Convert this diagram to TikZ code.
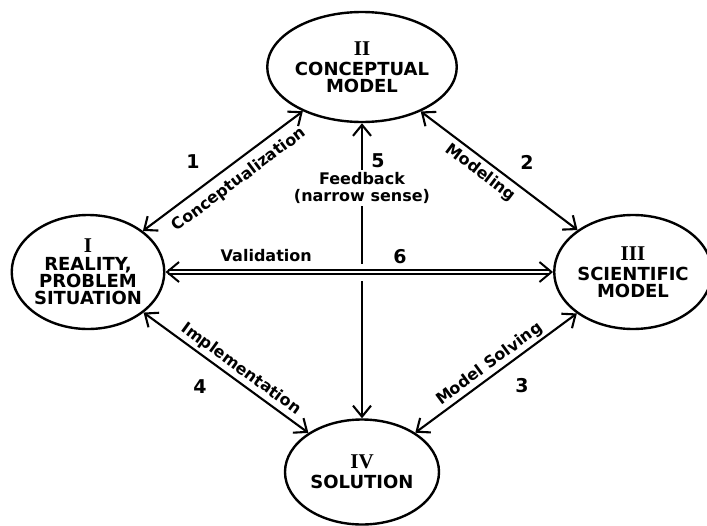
\documentclass[tikz,border=0pt]{standalone}
\usepackage{fontspec}
\setmainfont{DejaVu Sans}
\newfontfamily\romanfont{Liberation Serif}
\usetikzlibrary{shapes.geometric,arrows.meta}

\begin{document}
\begin{tikzpicture}[x=1pt,y=-1pt,>={Straight Barb[length=11pt,width=18pt]},
    stage/.style={draw, ellipse, line width=2.4pt, inner sep=0pt, align=center, font=\fontsize{18}{17}\selectfont\bfseries},
    link/.style={line width=2.1pt},
    lbl/.style={font=\fontsize{16}{17}\selectfont\bfseries, inner sep=1pt},
    num/.style={font=\fontsize{19}{19}\selectfont\bfseries}]
  \useasboundingbox (0,0) rectangle (707,525);
  % the four stages
  \node[stage, minimum width=150pt, minimum height=114pt] (real) at (88,272) {{\romanfont\fontsize{21}{21}\selectfont\bfseries I}\\[1pt]REALITY,\\PROBLEM\\SITUATION};
  \node[stage, minimum width=152pt, minimum height=110pt] (concept) at (362,67) {{\romanfont\fontsize{21}{21}\selectfont\bfseries II}\\[3pt]CONCEPTUAL\\MODEL};
  \node[stage, minimum width=142pt, minimum height=114pt] (sci) at (633,272) {{\romanfont\fontsize{21}{21}\selectfont\bfseries III}\\[3pt]SCIENTIFIC\\MODEL};
  \node[stage, minimum width=154pt, minimum height=105pt] (sol) at (362,472) {{\romanfont\fontsize{21}{21}\selectfont\bfseries IV}\\[3pt]SOLUTION};
  \coordinate (gapTop) at (362,264);
  \coordinate (gapBot) at (362,281);

  % connectors
  \draw[link,<->] (real) -- (concept) node[lbl, sloped, pos=0.54, below=7pt] (conc) {Conceptualization};
  \draw[link,<->] (concept) -- (sci) node[lbl, sloped, pos=0.43, below=3pt] (mod) {Modeling};
  \draw[link,<->] (sol) -- (sci) node[lbl, sloped, pos=0.5, above=1pt] (solv) {Model Solving};
  \draw[link,<->] (real) -- (sol) node[lbl, sloped, pos=0.55, above=2pt] (impl) {Implementation};
  \draw[<->, >={Straight Barb[length=12pt,width=20pt,line width=2pt]}, line width=1.6pt, double, double distance=2.5pt] (real) -- (sci) node[lbl, pos=0.26, above=8pt] (valid) {Validation};
  \draw[link,<-] (concept) -- (gapTop) node[lbl, pos=0.46, fill=white, align=center, inner sep=2pt] (feed) {Feedback\\(narrow sense)};
  \draw[link,->] (gapBot) -- (sol);

  % numbers
  \node[num] (n1) at (193,162) {1};
  \node[num] (n2) at (527,162) {2};
  \node[num] (n3) at (522,386) {3};
  \node[num] (n4) at (200,387) {4};
  \node[num] (n5) at (378,161) {5};
  \node[num] (n6) at (400,257) {6};
\end{tikzpicture}
\end{document}
